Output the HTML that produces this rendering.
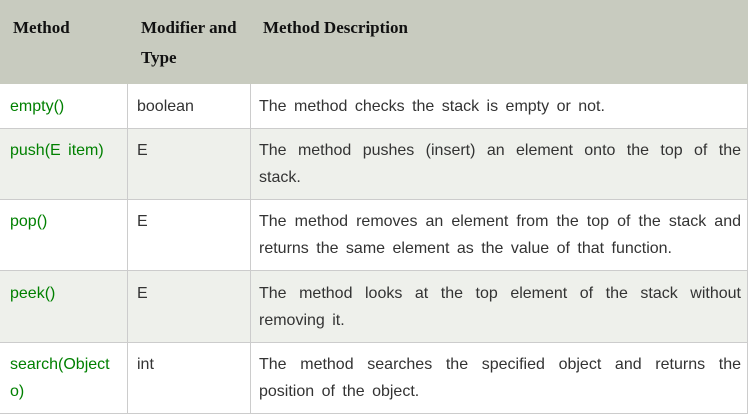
<!DOCTYPE html>
<html><head><style>
*{margin:0;padding:0;box-sizing:border-box}
body{width:748px;height:414px;background:#fff;overflow:hidden;font-family:"Liberation Sans",Arial,sans-serif;font-size:16px;color:#333}
.r{position:absolute;left:0;width:748px;border-bottom:1px solid #ccc}
.c{position:absolute;top:0;bottom:0;border-left:1px solid #ccc}
.t{position:absolute;line-height:27px}
.h{font-family:"Liberation Serif",serif;font-weight:bold;color:#111;font-size:17px;line-height:30px}
.g{color:#008000}
.d{left:259px;width:482px;text-align:justify;text-align-last:left;word-spacing:3px}
</style></head><body>
<div class="r" style="top:0;height:84px;background:#c8cbbf;border-bottom:none"></div>
<div class="t h" style="left:13px;top:13px">Method</div>
<div class="t h" style="left:141px;top:13px;width:110px">Modifier and<br>Type</div>
<div class="t h" style="left:263px;top:13px">Method Description</div>

<div class="r" style="top:84px;height:45px;background:#fff"></div>
<div class="r" style="top:129px;height:71px;background:#eef0eb"></div>
<div class="r" style="top:200px;height:71px;background:#fff"></div>
<div class="r" style="top:271px;height:72px;background:#eef0eb"></div>
<div class="r" style="top:343px;height:71px;background:#fff"></div>
<div class="c" style="left:127px;top:84px"></div>
<div class="c" style="left:250px;top:84px"></div>
<div class="c" style="left:747px;top:84px"></div>

<div class="t g" style="left:10px;top:93px">empty()</div>
<div class="t" style="left:137px;top:93px">boolean</div>
<div class="t d" style="top:93px">The method checks the stack is empty or not.</div>

<div class="t g" style="left:10px;top:137px;word-spacing:3px">push(E item)</div>
<div class="t" style="left:137px;top:137px">E</div>
<div class="t d" style="top:137px">The method pushes (insert) an element onto the top of the stack.</div>

<div class="t g" style="left:10px;top:208px">pop()</div>
<div class="t" style="left:137px;top:208px">E</div>
<div class="t d" style="top:208px">The method removes an element from the top of the stack and returns the same element as the value of that function.</div>

<div class="t g" style="left:10px;top:280px">peek()</div>
<div class="t" style="left:137px;top:280px">E</div>
<div class="t d" style="top:280px">The method looks at the top element of the stack without removing it.</div>

<div class="t g" style="left:10px;top:351px;width:110px">search(Object<br>o)</div>
<div class="t" style="left:137px;top:351px">int</div>
<div class="t d" style="top:351px">The method searches the specified object and returns the position of the object.</div>
</body></html>
